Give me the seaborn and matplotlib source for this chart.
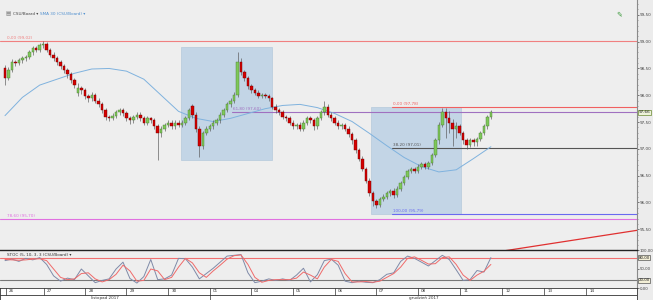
import numpy as np
import pandas as pd
import matplotlib
matplotlib.use("Agg")
import matplotlib.pyplot as plt
import matplotlib.transforms as mtransforms
from matplotlib.patches import Rectangle
import seaborn as sns

sns.set_theme(style="white")
plt.rcParams['font.family'] = ['DejaVu Sans']

# ---------------- data (2h candles) ----------------
opens = [98.50, 98.32, 98.47, 98.62, 98.60, 98.65, 98.69, 98.71, 98.80, 98.88,
         98.84, 98.93, 98.95, 98.84, 98.76, 98.69, 98.62, 98.54, 98.47, 98.39,
         98.28, 98.05, 98.13, 98.09, 97.98, 97.94, 98.01, 97.90, 97.83, 97.72,
         97.60, 97.57, 97.62, 97.68, 97.72, 97.66, 97.57, 97.53, 97.60, 97.64,
         97.57, 97.49, 97.57, 97.53, 97.42, 97.30, 97.38, 97.45, 97.49, 97.42,
         97.49, 97.45, 97.49, 97.57, 97.80, 97.64, 97.38, 97.06, 97.30, 97.38,
         97.42, 97.49, 97.53, 97.64, 97.72, 97.83, 97.90, 98.01, 98.62, 98.43,
         98.32, 98.17, 98.09, 98.05, 97.98, 98.01, 97.98, 97.94, 97.79, 97.72,
         97.68, 97.60, 97.57, 97.49, 97.42, 97.45, 97.38, 97.49, 97.57, 97.53,
         97.42, 97.57, 97.68, 97.79, 97.64, 97.57, 97.49, 97.42, 97.45, 97.38,
         97.27, 97.16, 96.97, 96.82, 96.63, 96.41, 96.18, 96.03, 95.96, 96.07,
         96.11, 96.18, 96.22, 96.14, 96.26, 96.37, 96.48, 96.59, 96.63, 96.59,
         96.67, 96.71, 96.67, 96.74, 96.89, 97.16, 97.45, 97.68, 97.57, 97.49,
         97.38, 97.42, 97.30, 97.16, 97.08, 97.16, 97.12, 97.19, 97.30, 97.42,
         97.60]
highs = [98.56, 98.52, 98.68, 98.66, 98.70, 98.74, 98.76, 98.84, 98.92, 98.91,
         98.98, 99.02, 98.99, 98.88, 98.80, 98.73, 98.66, 98.58, 98.51, 98.43,
         98.32, 98.22, 98.18, 98.13, 98.03, 98.06, 98.05, 97.95, 97.87, 97.76,
         97.64, 97.66, 97.72, 97.77, 97.76, 97.70, 97.61, 97.64, 97.69, 97.68,
         97.61, 97.61, 97.60, 97.57, 97.46, 97.42, 97.49, 97.53, 97.53, 97.53,
         97.53, 97.53, 97.61, 97.76, 97.84, 97.68, 97.42, 97.33, 97.42, 97.46,
         97.53, 97.57, 97.68, 97.76, 97.87, 97.94, 98.06, 98.80, 98.70, 98.48,
         98.36, 98.21, 98.13, 98.09, 98.05, 98.05, 98.02, 97.97, 97.83, 97.76,
         97.72, 97.64, 97.61, 97.53, 97.49, 97.50, 97.53, 97.61, 97.61, 97.57,
         97.61, 97.72, 97.90, 97.83, 97.68, 97.61, 97.53, 97.49, 97.49, 97.42,
         97.31, 97.20, 97.01, 96.86, 96.67, 96.45, 96.22, 96.07, 96.11, 96.15,
         96.22, 96.26, 96.27, 96.30, 96.41, 96.52, 96.63, 96.67, 96.67, 96.71,
         96.75, 96.75, 96.78, 96.93, 97.20, 97.50, 97.77, 97.76, 97.70, 97.55,
         97.50, 97.46, 97.34, 97.20, 97.20, 97.20, 97.23, 97.34, 97.46, 97.64,
         97.72]
lows = [98.20, 98.28, 98.44, 98.55, 98.56, 98.61, 98.64, 98.67, 98.76, 98.80,
        98.80, 98.88, 98.80, 98.72, 98.64, 98.57, 98.49, 98.42, 98.33, 98.22,
        98.14, 97.98, 98.03, 97.93, 97.88, 97.90, 97.85, 97.78, 97.66, 97.54,
        97.52, 97.53, 97.58, 97.64, 97.62, 97.52, 97.47, 97.49, 97.56, 97.52,
        97.44, 97.45, 97.48, 97.37, 96.80, 97.22, 97.33, 97.40, 97.37, 97.38,
        97.40, 97.41, 97.45, 97.54, 97.58, 97.32, 96.84, 97.00, 97.26, 97.34,
        97.38, 97.45, 97.49, 97.60, 97.68, 97.79, 97.86, 97.96, 98.38, 98.27,
        98.12, 98.04, 98.01, 97.94, 97.94, 97.94, 97.89, 97.74, 97.66, 97.63,
        97.55, 97.52, 97.44, 97.37, 97.38, 97.33, 97.33, 97.45, 97.48, 97.36,
        97.38, 97.53, 97.64, 97.59, 97.52, 97.44, 97.37, 97.38, 97.33, 97.22,
        97.10, 96.92, 96.77, 96.58, 96.36, 96.12, 95.94, 95.89, 95.92, 96.02,
        96.07, 96.13, 96.09, 96.10, 96.21, 96.33, 96.44, 96.55, 96.55, 96.55,
        96.62, 96.62, 96.63, 96.70, 96.85, 97.10, 97.40, 97.20, 97.30, 97.05,
        97.20, 97.26, 97.10, 97.00, 97.04, 97.06, 97.05, 97.14, 97.26, 97.38,
        97.56]
closes = [98.32, 98.47, 98.62, 98.60, 98.65, 98.69, 98.71, 98.80, 98.88, 98.84,
          98.93, 98.95, 98.84, 98.76, 98.69, 98.62, 98.54, 98.47, 98.39, 98.28,
          98.20, 98.13, 98.09, 97.98, 97.94, 98.01, 97.90, 97.83, 97.72, 97.60,
          97.57, 97.62, 97.68, 97.72, 97.66, 97.57, 97.53, 97.60, 97.64, 97.57,
          97.49, 97.57, 97.53, 97.42, 97.30, 97.38, 97.45, 97.49, 97.42, 97.49,
          97.45, 97.49, 97.57, 97.72, 97.64, 97.38, 97.06, 97.30, 97.38, 97.42,
          97.49, 97.53, 97.64, 97.72, 97.83, 97.90, 98.01, 98.62, 98.43, 98.32,
          98.17, 98.09, 98.05, 97.98, 98.01, 97.98, 97.94, 97.79, 97.72, 97.68,
          97.60, 97.57, 97.49, 97.42, 97.45, 97.38, 97.49, 97.57, 97.53, 97.42,
          97.57, 97.68, 97.79, 97.64, 97.57, 97.49, 97.42, 97.45, 97.38, 97.27,
          97.16, 96.97, 96.82, 96.63, 96.41, 96.18, 96.03, 95.96, 96.07, 96.11,
          96.18, 96.22, 96.14, 96.26, 96.37, 96.48, 96.59, 96.63, 96.59, 96.67,
          96.71, 96.67, 96.74, 96.89, 97.16, 97.45, 97.68, 97.57, 97.49, 97.38,
          97.42, 97.30, 97.16, 97.08, 97.16, 97.12, 97.19, 97.30, 97.42, 97.60,
          97.68]

sma_idx = list(range(0, 141, 5))
sma_vals = [97.62, 97.96, 98.19, 98.30, 98.41, 98.49, 98.50, 98.45, 98.30, 98.00,
            97.70, 97.57, 97.51, 97.57, 97.66, 97.75, 97.81, 97.83, 97.77, 97.66,
            97.51, 97.29, 97.06, 96.84, 96.67, 96.57, 96.61, 96.82, 97.04]

stoch_idx = list(range(0, 141, 2))
stoch_k = [72, 76, 70, 78, 74, 80, 62, 32, 18, 26, 22, 50, 32, 14, 20, 24, 50, 68, 25, 13,
           30, 75, 22, 24, 34, 78, 77, 55, 24, 38, 52, 68, 84, 86, 88, 40, 14, 18, 24, 20,
           24, 20, 34, 52, 16, 35, 72, 76, 60, 18, 14, 18, 15, 14, 22, 36, 40, 70, 84, 78,
           68, 58, 72, 86, 75, 48, 20, 22, 46, 42, 80]
stoch_d = [75, 74, 73, 74, 76, 77, 72, 50, 28, 22, 24, 38, 40, 24, 16, 22, 36, 60, 45, 18,
           20, 50, 45, 22, 28, 55, 78, 66, 40, 28, 45, 60, 76, 85, 87, 62, 28, 15, 20, 22,
           22, 22, 26, 42, 34, 24, 55, 75, 70, 38, 16, 16, 17, 15, 18, 28, 38, 55, 78, 82,
           73, 63, 64, 80, 82, 62, 34, 20, 34, 44, 62]

price_ticks = [95.5, 96.0, 96.5, 97.0, 97.5, 98.0, 98.5, 99.0, 99.5]
stoch_ticks = [0, 50, 100]
day_labels = ["26", "27", "28", "29", "30", "01", "04", "05", "06", "07", "08", "11", "12", "13", "14"]
day_starts = [0.3, 11.1, 23.1, 35.0, 47.0, 59.1, 70.9, 83.0, 95.1, 106.9, 119.0, 131.1, 143.2, 155.3, 167.4]
month_labels = ["listopad 2017", "grudzień 2017"]
month_starts = [-1.44, 59.1]

fib_full = [(99.02, "0,00 (99,02)", "#f08080"), (95.70, "78,60 (95,70)", "#e070e0")]
fib_right = [(97.78, "0,00 (97,78)", "#f06060"), (97.01, "38,20 (97,01)", "#555555"),
             (95.79, "100,00 (95,79)", "#6a6af0")]
fib_left_level = (97.68, "61,80 (97,60)", "#a070c0")
boxes = [(50.7, 76.9, 96.80, 98.90), (105.5, 131.4, 95.79, 97.78)]
trend_x = [140, 185]
trend_y = [95.06, 95.51]
last_price = "97,66"

# ---------------- figure ----------------
W, H = 653, 300
fig = plt.figure(figsize=(W / 100, H / 100), dpi=100)
fig.patch.set_facecolor("#ececec")
axw = 637 / W
XMIN, XMAX = -1.44, 182.1
LBL = 3.0

ax = fig.add_axes([0, 50 / H, axw, 250 / H])
ax2 = fig.add_axes([0, 12 / H, axw, 38 / H])
axd = fig.add_axes([0, 0, axw, 12 / H])

bg = "#eeeeee"
for a in (ax, ax2):
    a.set_facecolor(bg)
    a.set_xlim(XMIN, XMAX)
    for s in ("left", "top", "bottom"):
        a.spines[s].set_visible(False)
    a.spines["right"].set_color("#8a8a8a")
    a.spines["right"].set_linewidth(0.8)
    a.set_xticks([])

ax.set_ylim(95.114, 99.777)

# boxes
for x0, x1, y0, y1 in boxes:
    ax.add_patch(Rectangle((x0, y0), x1 - x0, y1 - y0, facecolor="#c3d5e6",
                           edgecolor="#b5c9dc", lw=0.5, zorder=1))

# fib lines
for lvl, lab, col in fib_full:
    ax.axhline(lvl, color=col, lw=0.8, zorder=2)
    ax.text(0.5, lvl + 0.02, lab, color=col, fontsize=3.0, va="bottom", ha="left", zorder=6)
for lvl, lab, col in fib_right:
    ax.plot([111.5, XMAX], [lvl, lvl], color=col, lw=0.8, zorder=2)
    ax.text(111.8, lvl + 0.02, lab, color=col, fontsize=3.0, va="bottom", ha="left", zorder=6)
ax.plot([65.4, XMAX], [fib_left_level[0]] * 2, color=fib_left_level[2], lw=0.8, zorder=2)
ax.text(65.6, fib_left_level[0] + 0.02, fib_left_level[1], color=fib_left_level[2],
        fontsize=3.0, va="bottom", ha="left", zorder=6)

# trend line
ax.plot(trend_x, trend_y, color="#e03030", lw=0.9, zorder=3)

# SMA
sns.lineplot(x=sma_idx, y=sma_vals, ax=ax, color="#7fb2de", lw=0.7, zorder=3)

# candles
df = pd.DataFrame({"o": opens, "h": highs, "l": lows, "c": closes})
df["i"] = np.arange(len(df))
up = df["c"] >= df["o"]
ax.vlines(df["i"], df["l"], df["h"], color="#555555", lw=0.45, zorder=4)
body_bottom = df[["o", "c"]].min(axis=1)
body_h = (df["c"] - df["o"]).abs().clip(lower=0.012)
ax.bar(df["i"][up], body_h[up], bottom=body_bottom[up], width=0.7,
       color="#7ec85a", edgecolor="#4a7a30", lw=0.3, zorder=5)
ax.bar(df["i"][~up], body_h[~up], bottom=body_bottom[~up], width=0.7,
       color="#d40000", edgecolor="#700000", lw=0.3, zorder=5)

# right price axis
ax.yaxis.tick_right()
ax.set_yticks(price_ticks)
ax.set_yticklabels([f"{v:.2f}".replace(".", ",") for v in price_ticks])
ax.set_yticks(np.arange(95.2, 99.8, 0.1), minor=True)
ax.tick_params(axis="y", which="major", labelsize=LBL, length=1.6, width=0.5, pad=0.4,
               colors="#444444", right=True)
ax.tick_params(axis="y", which="minor", length=0.9, width=0.4, colors="#666666", right=True)
ax.set_ylabel("")

trans = mtransforms.blended_transform_factory(ax.transAxes, ax.transData)
ax.text(1.002, 97.68, last_price, transform=trans, fontsize=LBL, va="center", ha="left",
        color="#222222", zorder=10, clip_on=False,
        bbox=dict(boxstyle="square,pad=0.15", fc="#eef3da", ec="#6a8a30", lw=0.5))

# title
fig.text(5 / W, 1 - 14 / H, "\u25A4", fontsize=4.0, color="#777777", va="center")
fig.text(13 / W, 1 - 14 / H, "CSU/Board \u25BE", fontsize=3.0, color="#444444", va="center")
fig.text(40 / W, 1 - 14 / H, "SMA 30 (CSU/Board) \u25BE", fontsize=3.0, color="#4f8fcf", va="center")
fig.text(616 / W, 1 - 14 / H, "\u270E", fontsize=5, color="#3a9a3a", va="center")

# ---------------- stochastic panel ----------------
ax2.set_ylim(0, 100)
ax2.spines["top"].set_visible(True)
ax2.spines["top"].set_color("#222222")
ax2.spines["top"].set_linewidth(1.0)
ax2.axhline(80, color="#f07070", lw=0.8, zorder=2)
ax2.axhline(20, color="#777777", lw=0.8, zorder=2)
sns.lineplot(x=stoch_idx, y=stoch_k, ax=ax2, color="#7f8aa8", lw=0.7, zorder=3)
sns.lineplot(x=stoch_idx, y=stoch_d, ax=ax2, color="#f06a6a", lw=0.7, zorder=4)
ax2.yaxis.tick_right()
ax2.set_yticks(stoch_ticks)
ax2.set_yticklabels([f"{v:.2f}".replace(".", ",") for v in stoch_ticks])
ax2.tick_params(axis="y", labelsize=2.8, length=1.4, width=0.5, pad=0.4, colors="#444444", right=True)
ax2.set_ylabel("")
trans2 = mtransforms.blended_transform_factory(ax2.transAxes, ax2.transData)
for lv in (80, 20):
    ax2.text(1.002, lv, f"{lv:.2f}".replace(".", ","), transform=trans2, fontsize=2.8,
             va="center", ha="left", color="#222222", clip_on=False, zorder=10,
             bbox=dict(boxstyle="square,pad=0.12", fc="#f3efd6", ec="#555555", lw=0.5))
ax2.text(0.6, 93, "STOC (5, 10, 3, 3 (CSU/Board) \u25BE", fontsize=3.0, color="#333333",
         va="top", ha="left", zorder=10)

# ---------------- date axis ----------------
axd.set_facecolor("white")
axd.set_xlim(XMIN, XMAX)
axd.set_ylim(0, 1)
axd.set_xticks([])
axd.set_yticks([])
for s in axd.spines.values():
    s.set_color("#333333")
    s.set_linewidth(0.6)
axd.axhline(0.45, color="#333333", lw=0.6)
for xs, lab in zip(day_starts, day_labels):
    axd.plot([xs, xs], [0.45, 1], color="#333333", lw=0.5)
    axd.text(xs + 0.9, 0.72, lab, fontsize=3.0, va="center", ha="left", color="#333333")
axd.plot([month_starts[1]] * 2, [0, 0.45], color="#333333", lw=0.5)
m_ends = [month_starts[1], XMAX]
for xs, xe, lab in zip(month_starts, m_ends, month_labels):
    axd.text((xs + xe) / 2, 0.2, lab, fontsize=3.0, va="center", ha="center", color="#333333")

fig.savefig("out.png", dpi=100, facecolor=fig.get_facecolor())
